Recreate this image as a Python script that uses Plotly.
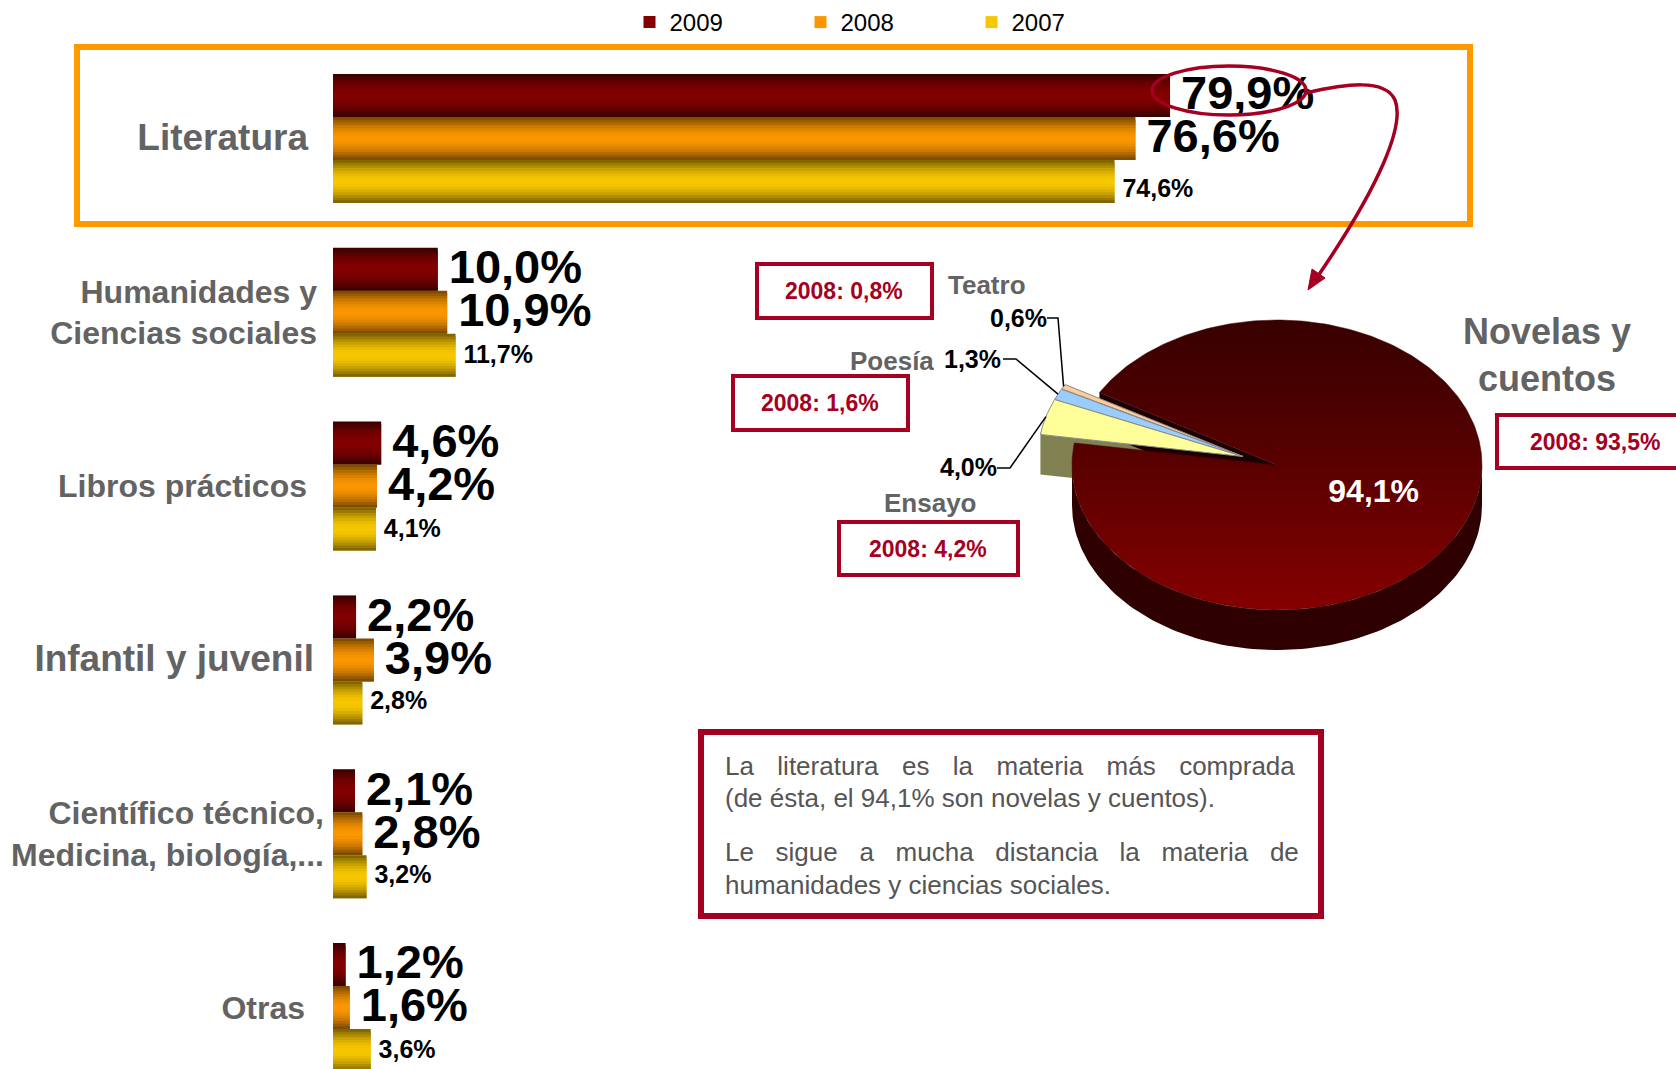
import math
import numpy as np
import plotly.graph_objects as go

W, H = 1676, 1069

# ---------------- data ----------------
years = ["2009", "2008", "2007"]
categories = [
    "Literatura",
    "Humanidades y<br>Ciencias sociales",
    "Libros prácticos",
    "Infantil y juvenil",
    "Científico técnico,<br>Medicina, biología,...",
    "Otras",
]
share_2009 = [79.9, 10.0, 4.6, 2.2, 2.1, 1.2]
share_2008 = [76.6, 10.9, 4.2, 3.9, 2.8, 1.6]
share_2007 = [74.6, 11.7, 4.1, 2.8, 3.2, 3.6]

lit_labels = ["Teatro", "Poesía", "Ensayo", "Novelas y<br>cuentos"]
lit_2009 = [0.6, 1.3, 4.0, 94.1]
lit_2008 = [0.8, 1.6, 4.2, 93.5]

note_paragraphs = [
    ["La literatura es la materia más comprada", "(de ésta, el 94,1% son novelas y cuentos)."],
    ["Le sigue a mucha distancia la materia de", "humanidades y ciencias sociales."],
]

# ---------------- style ----------------
FONT = "Liberation Sans, Arial, sans-serif"
CRIMSON = "#a50021"
GRAY = "#636363"
ORANGE = "#ff9900"


def pct(v):
    return f"{v:.1f}".replace(".", ",") + "%"


def hex_rgb(h):
    h = h.lstrip("#")
    return tuple(int(h[i:i + 2], 16) for i in (0, 2, 4))


def mix(c1, c2, t):
    a, b = hex_rgb(c1), hex_rgb(c2)
    return "rgb(%d,%d,%d)" % tuple(round(a[i] + (b[i] - a[i]) * t) for i in range(3))


def gap(px):
    """A non-breaking space sized to roughly `px` pixels."""
    if px <= 0:
        return ""
    return f'<span style="font-size:{px / 0.278:.1f}px">\u00a0</span>'


fig = go.Figure()

# ---------------- grouped horizontal bars (shaded in thin strips) ----------------
PX_PER_PCT = 10.476
BAR_X0 = 333
PITCH = 173.8
TOP_CENTER = 138.5
bar_h = 43 / PITCH
K = 16
ramps = [("#380000", "#820000"), ("#734400", "#fa9600"), ("#755c00", "#f7c800")]
series = [share_2009, share_2008, share_2007]
positions = list(range(len(categories)))

for j, (yr, vals) in enumerate(zip(years, series)):
    dark, bright = ramps[j]
    for k in range(K):
        t = (k + 0.5) / K
        b = math.sin(math.pi * t)
        fig.add_trace(go.Bar(
            x=vals, y=positions, orientation="h",
            width=bar_h / K * (2.0 if k < K - 1 else 1.0),
            offset=-1.5 * bar_h + j * bar_h + k * bar_h / K,
            marker=dict(color=mix(dark, bright, b), line=dict(width=0)),
            name=yr, legendgroup=yr, showlegend=(k == K // 2),
            hoverinfo="skip",
        ))

label_sizes = [47, 47, 25]
label_gap_marker = [16, 16, 11]
label_nudge = [[0.012] * 6, [0.012] * 6, [0.055, 0.01, 0.01, 0, 0, 0.01]]
for j, vals in enumerate(series):
    fig.add_trace(go.Scatter(
        x=vals, y=[p - bar_h + j * bar_h + label_nudge[j][p] for p in positions],
        mode="markers+text", text=[pct(v) for v in vals],
        textposition="middle right",
        marker=dict(size=label_gap_marker[j], opacity=0),
        textfont=dict(size=label_sizes[j], color="black", family=FONT, weight="bold"),
        showlegend=False, hoverinfo="skip", cliponaxis=False,
    ))

# category tick labels
tick_pad_px = [16, 7, 17, 10, 0, 19]
tick_size = {0: 37, 3: 37}
ticktext = []
for i, c in enumerate(categories):
    lines = [ln + gap(tick_pad_px[i]) for ln in c.split("<br>")]
    txt = "<br>".join(lines)
    if i in tick_size:
        txt = f'<span style="font-size:{tick_size[i]}px">{txt}</span>'
    ticktext.append(txt)

# ---------------- exploded 3D pie of the Literatura breakdown ----------------
cx, cy, rx, ry, depth = 1277, 465, 205, 145, 40
start_deg = 150.0
bounds = start_deg + np.concatenate([[0], np.cumsum(lit_2009)]) / sum(lit_2009) * 360.0
n_small = 3
explode = 36
mid_small = math.radians((bounds[0] + bounds[n_small]) / 2)
ox = explode * math.cos(mid_small)
oy = -explode * math.sin(mid_small) * ry / rx


def pt(deg, dx=0.0, dy=0.0, r=1.0):
    t = math.radians(deg)
    return cx + dx + r * rx * math.cos(t), cy + dy - r * ry * math.sin(t)


def arc(a0, a1, dx=0.0, dy=0.0, n=120):
    xs, ys = [], []
    for a in np.linspace(a0, a1, n):
        x, y = pt(a, dx, dy)
        xs.append(x)
        ys.append(y)
    return xs, ys


def poly(xs, ys, color, line_color=None, line_width=0, **kw):
    fig.add_trace(go.Scatter(
        x=xs + [xs[0]], y=ys + [ys[0]], xaxis="x2", yaxis="y2",
        mode="lines", fill="toself", fillcolor=color,
        line=dict(color=line_color or color, width=line_width),
        showlegend=False, hoverinfo="skip", **kw,
    ))


# cut face of the exploded Ensayo slice
e_end = bounds[n_small]
ex, ey = pt(e_end, ox, oy)
poly([cx + ox, ex, ex, cx + ox], [cy + oy, ey, ey + depth, cy + oy + depth], "#808050")

# cut face of the main slice at its closing edge
bx, by = pt(bounds[0])
poly([cx, bx, bx, cx], [cy, by, by + depth, cy + depth], "#1c0000")

# front wall of the main slice
wx, wy = arc(180, 360)
poly(wx + wx[::-1], wy + [v + depth for v in wy[::-1]], "#2e0000")

# top face of the main slice
tx, ty = arc(bounds[n_small], bounds[0] + 360, n=300)
fig.add_trace(go.Scatter(
    x=[cx] + tx + [cx], y=[cy] + ty + [cy], xaxis="x2", yaxis="y2",
    mode="lines", fill="toself",
    fillgradient=dict(type="vertical", start=cy - ry, stop=cy + ry,
                      colorscale=[[0, "#380000"], [0.45, "#560000"], [1, "#860000"]]),
    line=dict(color="#3a0000", width=0.5),
    showlegend=False, hoverinfo="skip",
))

# small exploded slices
small_colors = ["#ffcc99", "#99ccff", "#ffff99"]
for i in range(n_small):
    sx, sy = arc(bounds[i], bounds[i + 1], ox, oy, n=30)
    poly([cx + ox] + sx, [cy + oy] + sy, small_colors[i], line_color="#8a8a8a", line_width=1)

# value inside the main slice
mid_main = (bounds[n_small] + bounds[0] + 360) / 2
mx, my = pt(mid_main, r=0.5)
fig.add_trace(go.Scatter(
    x=[mx], y=[my + 5], xaxis="x2", yaxis="y2", mode="text", text=[pct(lit_2009[3])],
    textposition="middle center",
    textfont=dict(size=32, color="white", family=FONT, weight="bold"),
    showlegend=False, hoverinfo="skip",
))

# leader lines and labels of the small slices
value_pos = [(1018, 318), (972, 359), (968, 467)]
leader_start = [(1047, 318), (1003, 359), (997, 468)]
leader_knee = [(1058, 318), (1016, 359), (1010, 468)]
name_pos = [(987, 285), (892, 361), (930, 503)]
for i in range(n_small):
    lx, ly = pt((bounds[i] + bounds[i + 1]) / 2, ox, oy)
    fig.add_trace(go.Scatter(
        x=[leader_start[i][0], leader_knee[i][0], lx],
        y=[leader_start[i][1], leader_knee[i][1], ly],
        xaxis="x2", yaxis="y2", mode="lines", line=dict(color="black", width=1.5),
        showlegend=False, hoverinfo="skip",
    ))

annotations = []
for i in range(n_small):
    annotations.append(dict(
        x=value_pos[i][0], y=value_pos[i][1], xref="x2", yref="y2", showarrow=False,
        text=pct(lit_2009[i]), xanchor="center", yanchor="middle",
        font=dict(size=25, color="black", family=FONT, weight="bold"),
    ))
    annotations.append(dict(
        x=name_pos[i][0], y=name_pos[i][1], xref="x2", yref="y2", showarrow=False,
        text=lit_labels[i], xanchor="center", yanchor="middle",
        font=dict(size=26, color=GRAY, family=FONT, weight="bold"),
    ))
annotations.append(dict(
    x=1547, y=355, xref="x2", yref="y2", showarrow=False, text=lit_labels[3],
    xanchor="center", yanchor="middle", align="center",
    font=dict(size=36, color=GRAY, family=FONT, weight="bold"),
))

# previous-year boxes
box_rects = [(757, 264, 932, 318), (733, 376, 908, 430), (839, 522, 1018, 575), (1497, 415, 1700, 468)]
box_text_x = [844, 820, 928, 1595]
shapes = [
    dict(type="rect", xref="x2", yref="y2", x0=77, y0=47, x1=1470, y1=224,
         line=dict(color=ORANGE, width=6), layer="below"),
]
for (x0, y0, x1, y1), txx, v in zip(box_rects, box_text_x, lit_2008):
    shapes.append(dict(type="rect", xref="x2", yref="y2", x0=x0, y0=y0, x1=x1, y1=y1,
                       line=dict(color=CRIMSON, width=4), fillcolor="white"))
    annotations.append(dict(
        x=txx, y=(y0 + y1) / 2, xref="x2", yref="y2", showarrow=False,
        text=f"2008: {pct(v)}", xanchor="center", yanchor="middle",
        font=dict(size=23, color=CRIMSON, family=FONT, weight="bold"),
    ))

# highlight ring and arrow to the pie
shapes.append(dict(type="circle", xref="x2", yref="y2", x0=1152, y0=66, x1=1306, y1=115,
                   line=dict(color=CRIMSON, width=3.5)))
shapes.append(dict(type="path", xref="x2", yref="y2",
                   path="M1306,93 C1345,84 1385,78 1395,100 C1405,125 1380,185 1318,276",
                   line=dict(color=CRIMSON, width=3.5)))
shapes.append(dict(type="path", xref="x2", yref="y2",
                   path="M1308,290 L1312,269 L1325,278 Z",
                   line=dict(color=CRIMSON, width=1), fillcolor=CRIMSON))

# note box
shapes.append(dict(type="rect", xref="x2", yref="y2", x0=701, y0=732, x1=1321, y1=916,
                   line=dict(color=CRIMSON, width=6)))
note_y = [[765, 798], [852, 885]]
# word spacing (px) that spreads the justified lines across the box
note_word_gap = [[23.4, 0], [21.7, 0]]
for p, para in enumerate(note_paragraphs):
    for l, line in enumerate(para):
        sep = " " if note_word_gap[p][l] == 0 else (
            f'<span style="font-size:{note_word_gap[p][l] / (3 * 0.278):.1f}px"> \u00a0\u00a0</span>')
        annotations.append(dict(
            x=723, y=note_y[p][l], xref="x2", yref="y2", showarrow=False,
            text=sep.join(line.split(" ")), xanchor="left", yanchor="middle",
            font=dict(size=26, color="#555555", family=FONT),
        ))

fig.update_layout(
    template="none",
    width=W, height=H,
    margin=dict(l=0, r=0, t=0, b=0),
    paper_bgcolor="white", plot_bgcolor="rgba(0,0,0,0)",
    font=dict(family=FONT),
    barmode="overlay",
    xaxis=dict(domain=[BAR_X0 / W, 1], range=[0, (W - BAR_X0) / PX_PER_PCT],
               visible=False, fixedrange=True),
    yaxis=dict(domain=[0, 1], range=[(H - TOP_CENTER) / PITCH, -TOP_CENTER / PITCH],
               tickvals=positions, ticktext=ticktext, ticks="", showgrid=False,
               zeroline=False, showline=False, automargin=False, fixedrange=True,
               ticklabelstandoff=8,
               tickfont=dict(size=32, color=GRAY, family=FONT, weight="bold")),
    xaxis2=dict(domain=[0, 1], range=[0, W], visible=False, anchor="y2", fixedrange=True),
    yaxis2=dict(domain=[0, 1], range=[H, 0], visible=False, anchor="x2", fixedrange=True),
    legend=dict(orientation="h", x=0.3756, y=1.0, xanchor="left", yanchor="top",
                entrywidth=126, entrywidthmode="pixels", bgcolor="rgba(0,0,0,0)",
                font=dict(size=24, color="black", family=FONT), traceorder="normal"),
    shapes=shapes,
    annotations=annotations,
)

fig.write_html("out.html")
